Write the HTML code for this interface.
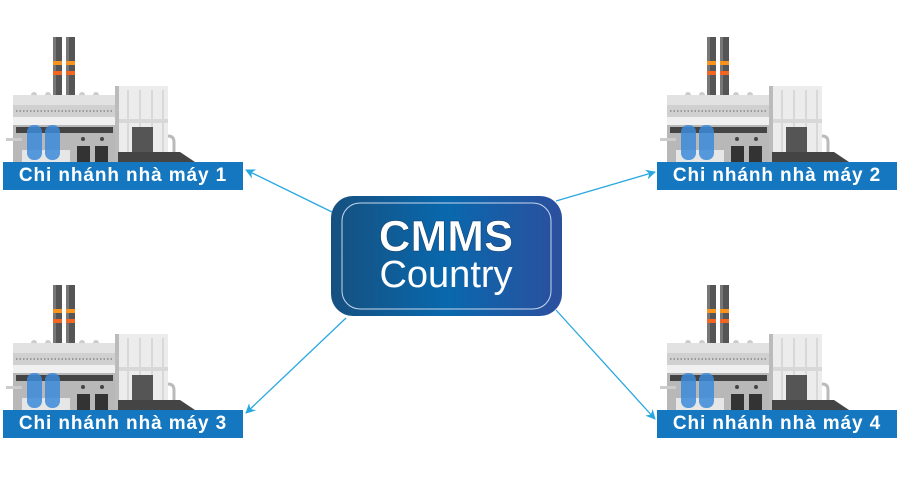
<!DOCTYPE html>
<html><head><meta charset="utf-8"><style>
body{margin:0;width:900px;height:496px;background:#fff;overflow:hidden;position:relative;font-family:"Liberation Sans",sans-serif}
.lbl{position:absolute;width:240px;height:28px;background:#1577c0;color:#fff;font-size:19px;font-weight:bold;line-height:28px;text-align:center;letter-spacing:0.9px}
</style></head><body>
<svg width="900" height="496" style="position:absolute;left:0;top:0">
<defs>
<g id="f">
<rect x="53" y="37" width="9" height="58" fill="#555"/><rect x="53" y="37" width="3" height="58" fill="#777"/>
<rect x="66" y="37" width="9" height="58" fill="#555"/><rect x="66" y="37" width="3" height="58" fill="#777"/>
<rect x="53" y="61" width="9" height="4" fill="#f7941d"/><rect x="66" y="61" width="9" height="4" fill="#f7941d"/>
<rect x="53" y="71" width="9" height="4" fill="#f26522"/><rect x="66" y="71" width="9" height="4" fill="#f26522"/>
<circle cx="34" cy="95" r="3" fill="#ccc"/><circle cx="48" cy="95" r="3" fill="#ccc"/><circle cx="82" cy="95" r="3" fill="#ccc"/><circle cx="96" cy="95" r="3" fill="#ccc"/>
<rect x="13" y="95" width="103" height="67" fill="#b8b8b8"/>
<rect x="13" y="95" width="103" height="10" fill="#e2e2e2"/>
<rect x="13" y="105" width="103" height="12" fill="#d0d0d0"/>
<line x1="16" y1="111" x2="114" y2="111" stroke="#888" stroke-width="1.5" stroke-dasharray="1.5,2"/>
<rect x="13" y="117" width="103" height="8" fill="#f0f0f0"/>
<rect x="16" y="127" width="97" height="6" fill="#444"/>
<rect x="77" y="146" width="13" height="16" fill="#333"/><rect x="95" y="146" width="13" height="16" fill="#333"/>
<circle cx="83" cy="139" r="2" fill="#444"/><circle cx="102" cy="139" r="2" fill="#444"/>
<rect x="22" y="150" width="48" height="12" fill="#e6e6e6"/>
<rect x="6" y="138" width="16" height="3" fill="#ccc"/>
<rect x="27" y="125" width="15" height="35" rx="7" fill="#3b8ad8" opacity="0.85"/>
<rect x="45" y="125" width="15" height="35" rx="7" fill="#3b8ad8" opacity="0.85"/>
<rect x="115" y="86" width="53" height="76" fill="#ececec"/>
<rect x="115" y="86" width="4" height="76" fill="#bbb"/>
<g stroke="#d2d2d2" stroke-width="1.5"><line x1="128" y1="90" x2="128" y2="160"/><line x1="140" y1="90" x2="140" y2="160"/><line x1="152" y1="90" x2="152" y2="160"/><line x1="163" y1="90" x2="163" y2="160"/></g>
<rect x="119" y="119" width="49" height="4" fill="#d8d8d8"/>
<rect x="132" y="127" width="21" height="31" fill="#555"/>
<path d="M168 136 q6 0 6 6 v14" stroke="#bbb" stroke-width="3" fill="none"/>
<polygon points="118,152 180,152 195,162 118,162" fill="#444"/>
</g>
<linearGradient id="g" x1="0" x2="1"><stop offset="0" stop-color="#16507f"/><stop offset="0.5" stop-color="#0968ad"/><stop offset="1" stop-color="#2c4f9e"/></linearGradient>
<marker id="a" markerWidth="10" markerHeight="10" refX="9" refY="5" orient="auto" markerUnits="userSpaceOnUse"><path d="M0,0 L10,5 L0,10 L3,5z" fill="#29a8e0"/></marker>
</defs>
<use href="#f"/><use href="#f" x="654"/><use href="#f" y="248"/><use href="#f" x="654" y="248"/>
<g stroke="#29a8e0" stroke-width="1.3" marker-end="url(#a)">
<line x1="332" y1="212" x2="246" y2="170"/><line x1="556" y1="201" x2="655" y2="172"/>
<line x1="346" y1="318" x2="246" y2="413"/><line x1="556" y1="310" x2="655" y2="419"/>
</g>
<rect x="331" y="196" width="231" height="120" rx="22" fill="url(#g)"/>
<rect x="342" y="203" width="209" height="106" rx="18" fill="none" stroke="#c8d8ee" stroke-width="1"/>
<text x="446" y="251" text-anchor="middle" font-family="Liberation Sans" font-weight="bold" font-size="44" fill="#fff" stroke="#0b3a66" stroke-width="0.5">CMMS</text>
<text x="446" y="287" text-anchor="middle" font-family="Liberation Sans" font-size="38" fill="#fff">Country</text>
</svg>
<div class="lbl" style="left:3px;top:162px">Chi nhánh nhà máy 1</div>
<div class="lbl" style="left:657px;top:162px">Chi nhánh nhà máy 2</div>
<div class="lbl" style="left:3px;top:410px">Chi nhánh nhà máy 3</div>
<div class="lbl" style="left:657px;top:410px">Chi nhánh nhà máy 4</div>
</body></html>
